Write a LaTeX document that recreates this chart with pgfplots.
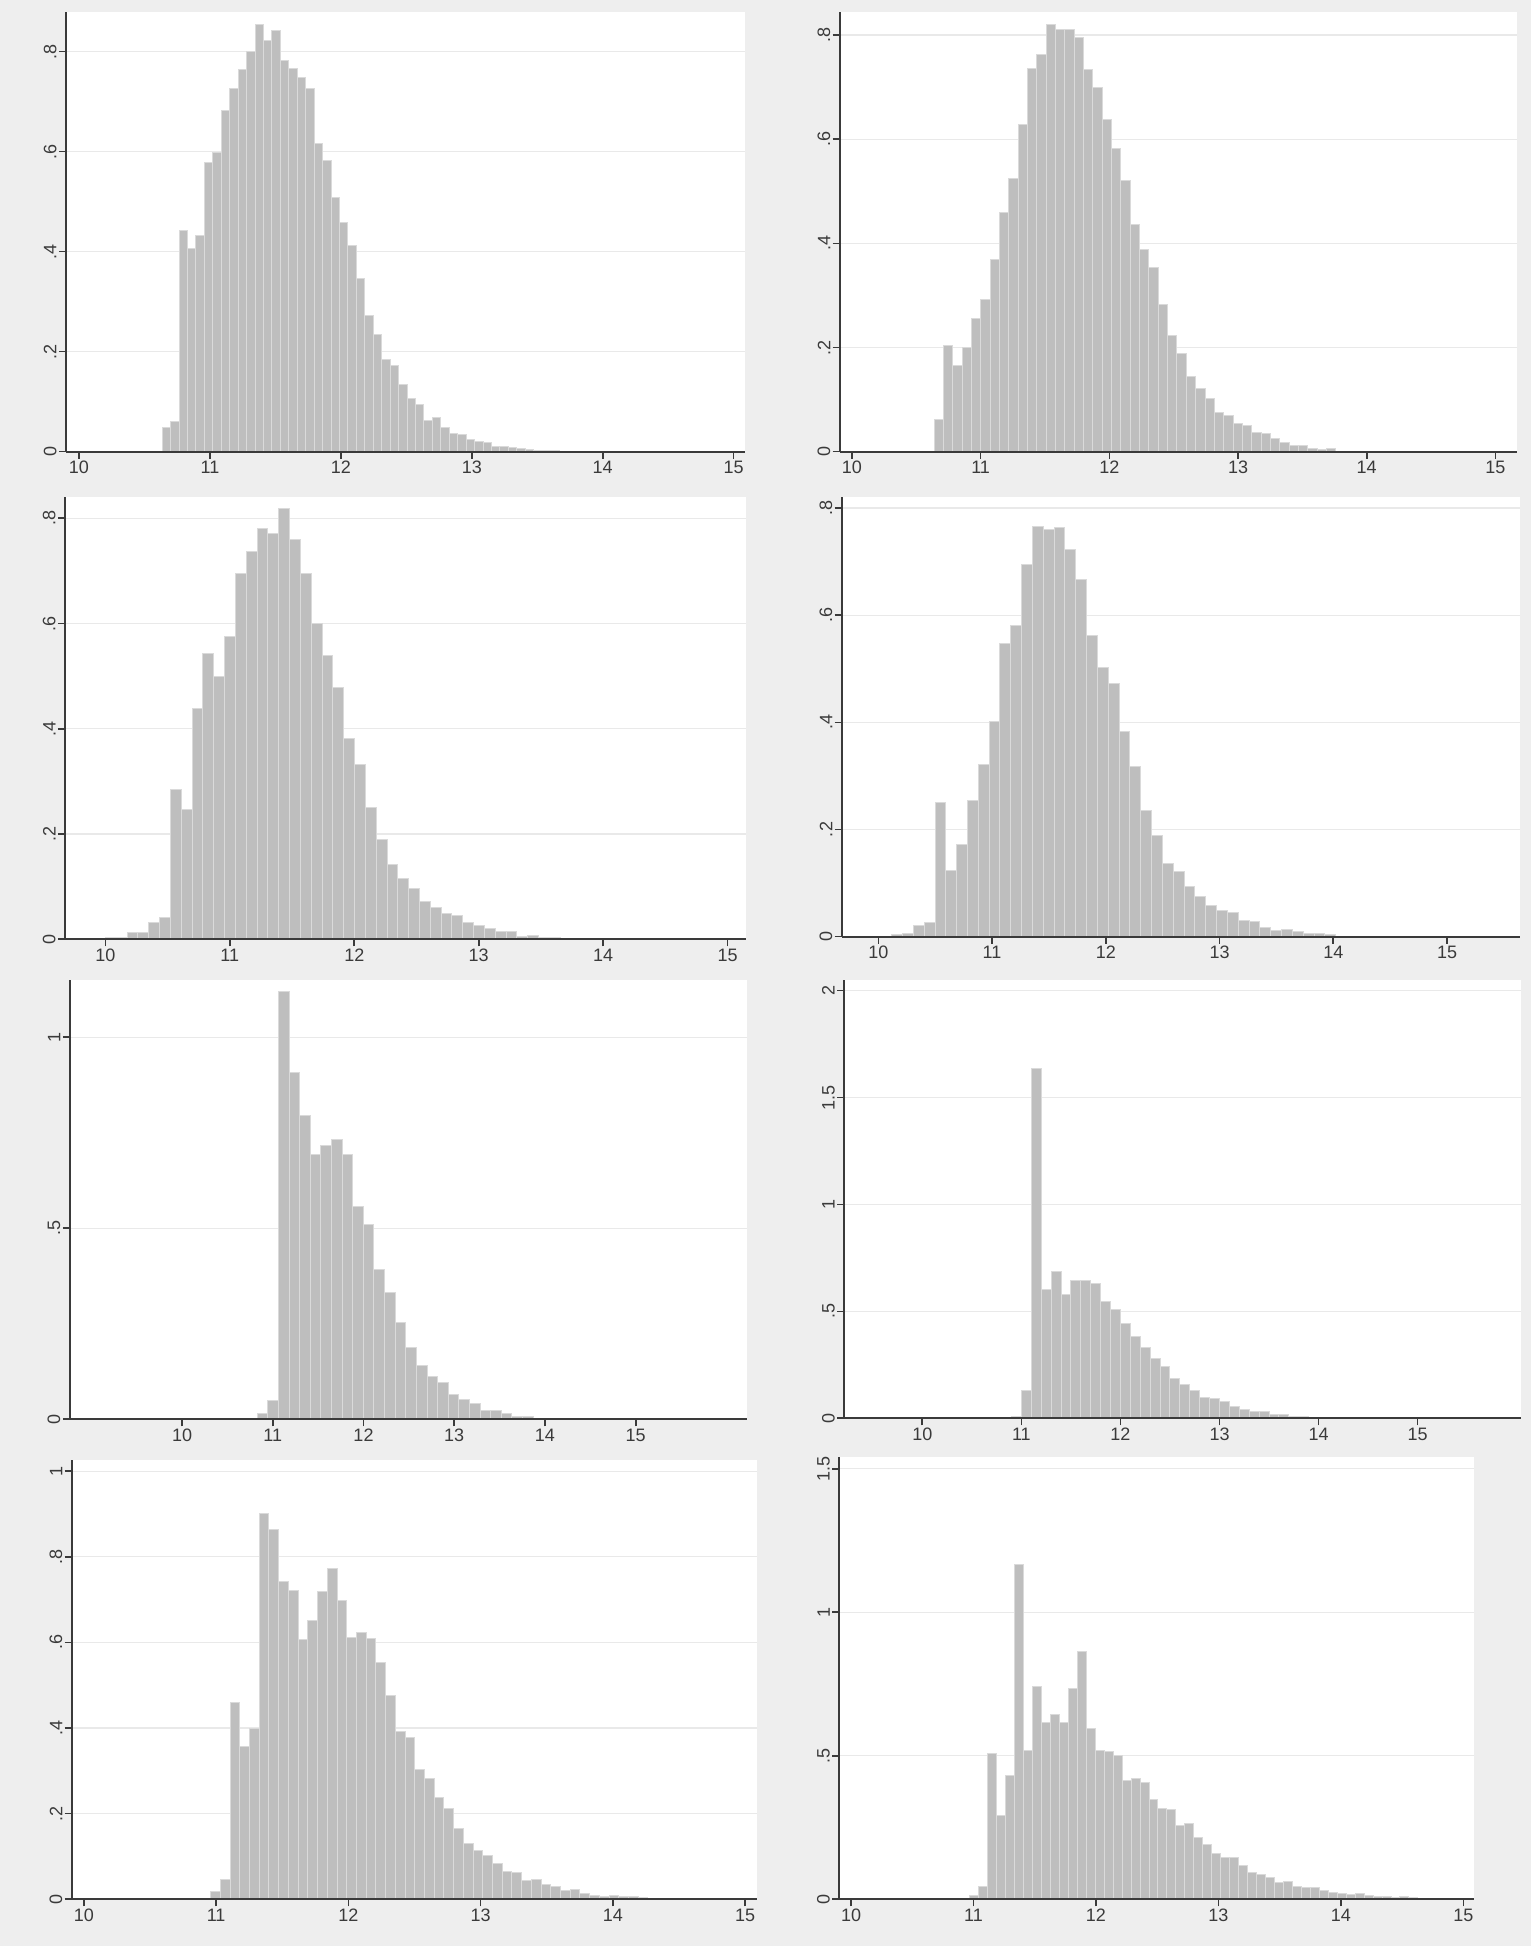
\documentclass[border=0pt]{standalone}
\usepackage{fontspec}
\setmainfont{Liberation Sans}
\usepackage{pgfplots}
\pgfplotsset{compat=1.18}

\definecolor{bgc}{HTML}{EEEEEE}
\definecolor{barf}{HTML}{BEBEBE}
\definecolor{barl}{HTML}{DADADA}
\definecolor{axc}{HTML}{3A3A3A}
\definecolor{gridc}{HTML}{E9E9E9}

\pgfplotsset{
  hist/.style={
    scale only axis, anchor=south west,
    axis background/.style={fill=white},
    axis x line=bottom, axis y line=left,
    axis line style={-, draw=axc, line width=1pt},
    tick align=outside,
    major tick length=3.5pt,
    every tick/.style={draw=axc, line width=0.8pt},
    ymajorgrids, grid style={draw=gridc, line width=0.6pt},
    xtick={10,11,12,13,14,15},
    xticklabels={10,11,12,13,14,15},
    ticklabel style={font=\fontsize{9}{10}\selectfont, text=axc},
    xticklabel style={anchor=north, inner sep=1pt},
    yticklabel style={rotate=90, anchor=south, inner sep=1pt},
    ymin=0,
  },
  bars/.style={ybar interval, fill=barf, draw=barl, line width=0.5pt},
}
% the axis lines are drawn again over the bars, so the baseline stays dark
\newcommand\axislines{%
  \draw[axc, line width=1pt] (rel axis cs:0,0) -- (rel axis cs:1,0);
  \draw[axc, line width=1pt] (rel axis cs:0,0) -- (rel axis cs:0,1);}

\begin{document}
\begin{tikzpicture}
\fill[bgc] (0pt,0pt) rectangle (765.5pt,973pt);

% ---------- row 1, left ----------
\begin{axis}[hist, at={(32.95pt,747.15pt)}, width=339.75pt, height=220pt,
  xmin=9.9, xmax=15.09, ymax=0.88,
  ytick={0,0.2,0.4,0.6,0.8}, yticklabels={0,.2,.4,.6,.8}]
\addplot[bars] coordinates {
(10.635,0.048) (10.6995,0.061) (10.764,0.442) (10.8285,0.407) (10.893,0.433)
(10.9575,0.578) (11.022,0.598) (11.0865,0.682) (11.151,0.727) (11.2155,0.765)
(11.28,0.800) (11.3445,0.855) (11.409,0.822) (11.4735,0.842) (11.538,0.783)
(11.6025,0.767) (11.667,0.749) (11.7315,0.727) (11.796,0.617) (11.8605,0.583)
(11.925,0.508) (11.9895,0.459) (12.054,0.413) (12.1185,0.347) (12.183,0.272)
(12.2475,0.235) (12.312,0.185) (12.3765,0.173) (12.441,0.135) (12.5055,0.106)
(12.57,0.094) (12.6345,0.062) (12.699,0.069) (12.7635,0.049) (12.828,0.037)
(12.8925,0.035) (12.957,0.025) (13.0215,0.021) (13.086,0.019) (13.1505,0.011)
(13.215,0.011) (13.2795,0.009) (13.344,0.007) (13.4085,0.004) (13.473,0.003)
(13.5375,0.002) (13.602,0.002) (13.6665,0.001) (13.731,0.001) (13.7955,0.001)
(13.86,0.001) (13.9245,0.001) (13.989,0.0005) (14.0535,0.0005) (14.118,0.0005)
(14.1825,0.0005) (14.247,0.0005) (14.3115,0.0005) (14.376,0.0008) (14.4405,0.0008)
(14.505,0.0008) (14.5695,0)
};
\axislines
\end{axis}

% ---------- row 1, right ----------
\begin{axis}[hist, at={(419.85pt,747.15pt)}, width=338.8pt, height=220pt,
  xmin=9.905, xmax=15.17, ymax=0.845,
  ytick={0,0.2,0.4,0.6,0.8}, yticklabels={0,.2,.4,.6,.8}]
\addplot[bars] coordinates {
(10.638,0.061) (10.7106,0.204) (10.7832,0.166) (10.8558,0.200) (10.9284,0.255)
(11.001,0.293) (11.0736,0.369) (11.1462,0.460) (11.2188,0.525) (11.2914,0.628)
(11.364,0.736) (11.4366,0.763) (11.5092,0.821) (11.5818,0.810) (11.6544,0.810)
(11.727,0.796) (11.7996,0.734) (11.8722,0.700) (11.9448,0.638) (12.0174,0.583)
(12.09,0.521) (12.1626,0.436) (12.2352,0.388) (12.3078,0.354) (12.3804,0.283)
(12.453,0.223) (12.5256,0.188) (12.5982,0.145) (12.6708,0.121) (12.7434,0.102)
(12.816,0.075) (12.8886,0.070) (12.9612,0.055) (13.0338,0.051) (13.1064,0.036)
(13.179,0.034) (13.2516,0.026) (13.3242,0.017) (13.3968,0.011) (13.4694,0.011)
(13.542,0.006) (13.6146,0.004) (13.6872,0.006) (13.7598,0.001) (13.8324,0.001)
(13.905,0.001) (13.9776,0.001) (14.0502,0.001) (14.1228,0.001) (14.1954,0.001)
(14.268,0.001) (14.3406,0.001) (14.4132,0.0005) (14.4858,0.0005) (14.5584,0.0005)
(14.631,0.0005) (14.7036,0.0005) (14.7762,0.0005) (14.8488,0.0005) (14.9214,0.0005)
(14.994,0.0008) (15.0666,0)
};
\axislines
\end{axis}

% ---------- row 2, left ----------
\begin{axis}[hist, at={(32.45pt,503.35pt)}, width=340.7pt, height=221.3pt,
  xmin=9.675, xmax=15.15, ymax=0.841,
  ytick={0,0.2,0.4,0.6,0.8}, yticklabels={0,.2,.4,.6,.8}]
\addplot[bars] coordinates {
(9.827,0.002) (9.914,0.002) (10.001,0.004) (10.088,0.004) (10.175,0.013)
(10.262,0.013) (10.349,0.031) (10.436,0.042) (10.523,0.285) (10.610,0.247)
(10.697,0.439) (10.784,0.543) (10.871,0.500) (10.958,0.576) (11.045,0.695)
(11.132,0.736) (11.219,0.781) (11.306,0.771) (11.393,0.819) (11.480,0.760)
(11.567,0.695) (11.654,0.600) (11.741,0.540) (11.828,0.479) (11.915,0.381)
(12.002,0.332) (12.089,0.250) (12.176,0.189) (12.263,0.143) (12.350,0.115)
(12.437,0.097) (12.524,0.071) (12.611,0.061) (12.698,0.049) (12.785,0.046)
(12.872,0.031) (12.959,0.027) (13.046,0.020) (13.133,0.014) (13.220,0.014)
(13.307,0.006) (13.394,0.008) (13.481,0.004) (13.568,0.004) (13.655,0.0015)
(13.742,0.0015) (13.829,0.0015) (13.916,0.0015) (14.003,0.0015) (14.090,0.0015)
(14.177,0.0015) (14.264,0.0015) (14.351,0.0015) (14.438,0.0015) (14.525,0)
(14.612,0) (14.699,0) (14.786,0.0015) (14.873,0.002) (14.960,0.001)
(15.047,0)
};
\axislines
\end{axis}

% ---------- row 2, right ----------
\begin{axis}[hist, at={(420.85pt,504.65pt)}, width=339.05pt, height=220pt,
  xmin=9.678, xmax=15.64, ymax=0.821,
  ytick={0,0.2,0.4,0.6,0.8}, yticklabels={0,.2,.4,.6,.8}]
\addplot[bars] coordinates {
(9.832,0.001) (9.9272,0.001) (10.0224,0.001) (10.1176,0.004) (10.2128,0.006)
(10.308,0.020) (10.4032,0.026) (10.4984,0.250) (10.5936,0.123) (10.6888,0.172)
(10.784,0.254) (10.8792,0.322) (10.9744,0.402) (11.0696,0.547) (11.1648,0.580)
(11.26,0.695) (11.3552,0.765) (11.4504,0.760) (11.5456,0.763) (11.6408,0.723)
(11.736,0.667) (11.8312,0.562) (11.9264,0.502) (12.0216,0.472) (12.1168,0.383)
(12.212,0.317) (12.3072,0.236) (12.4024,0.188) (12.4976,0.137) (12.5928,0.121)
(12.688,0.093) (12.7832,0.075) (12.8784,0.058) (12.9736,0.049) (13.0688,0.045)
(13.164,0.030) (13.2592,0.029) (13.3544,0.017) (13.4496,0.012) (13.5448,0.014)
(13.64,0.009) (13.7352,0.006) (13.8304,0.006) (13.9256,0.004) (14.0208,0.001)
(14.116,0.001) (14.2112,0.001) (14.3064,0.001) (14.4016,0.001) (14.4968,0.001)
(14.592,0.001) (14.6872,0.001) (14.7824,0.001) (14.8776,0.001) (14.9728,0.001)
(15.068,0.001) (15.1632,0.001) (15.2584,0.001) (15.3536,0.001) (15.4488,0.001)
(15.544,0)
};
\axislines
\end{axis}

% ---------- row 3, left ----------
\begin{axis}[hist, at={(34.9pt,263.35pt)}, width=338.75pt, height=219.65pt,
  xmin=8.763, xmax=16.23, ymax=1.15,
  ytick={0,0.5,1}, yticklabels={0,.5,1}]
\addplot[bars] coordinates {
(8.956,0.002) (9.073,0) (9.190,0) (9.307,0) (9.424,0)
(9.541,0) (9.658,0) (9.775,0) (9.892,0.0015) (10.009,0.0015)
(10.126,0.0015) (10.243,0.0015) (10.360,0.0015) (10.477,0.0015) (10.594,0.0015)
(10.711,0.0015) (10.828,0.016) (10.945,0.050) (11.062,1.121) (11.179,0.908)
(11.296,0.795) (11.413,0.694) (11.530,0.717) (11.647,0.733) (11.764,0.694)
(11.881,0.558) (11.998,0.509) (12.115,0.392) (12.232,0.331) (12.349,0.254)
(12.466,0.188) (12.583,0.142) (12.700,0.111) (12.817,0.096) (12.934,0.065)
(13.051,0.052) (13.168,0.041) (13.285,0.023) (13.402,0.023) (13.519,0.016)
(13.636,0.007) (13.753,0.007) (13.870,0.003) (13.987,0.001) (14.104,0.001)
(14.221,0.001) (14.338,0.001) (14.455,0.001) (14.572,0.001) (14.689,0.001)
(14.806,0.001) (14.923,0) (15.040,0.001) (15.157,0.001) (15.274,0.001)
(15.391,0) (15.508,0) (15.625,0) (15.742,0) (15.859,0)
(15.976,0.002) (16.093,0)
};
\axislines
\end{axis}

% ---------- row 3, right ----------
\begin{axis}[hist, at={(422.05pt,263.85pt)}, width=338.55pt, height=219.15pt,
  xmin=9.211, xmax=16.045, ymax=2.05,
  ytick={0,0.5,1,1.5,2}, yticklabels={0,.5,1,1.5,2}]
\addplot[bars] coordinates {
(9.4,0.003) (9.5,0) (9.6,0) (9.7,0) (9.8,0)
(9.9,0.0015) (10.0,0.0015) (10.1,0.0015) (10.2,0.0015) (10.3,0.0015)
(10.4,0.0015) (10.5,0.0015) (10.6,0.0015) (10.7,0.0015) (10.8,0.0015)
(10.9,0.009) (11.0,0.129) (11.1,1.638) (11.2,0.601) (11.3,0.688)
(11.4,0.580) (11.5,0.643) (11.6,0.646) (11.7,0.629) (11.8,0.544)
(11.9,0.509) (12.0,0.443) (12.1,0.384) (12.2,0.329) (12.3,0.278)
(12.4,0.242) (12.5,0.186) (12.6,0.159) (12.7,0.129) (12.8,0.098)
(12.9,0.094) (13.0,0.078) (13.1,0.056) (13.2,0.042) (13.3,0.031)
(13.4,0.031) (13.5,0.020) (13.6,0.016) (13.7,0.009) (13.8,0.009)
(13.9,0.006) (14.0,0.003) (14.1,0.001) (14.2,0.001) (14.3,0.001)
(14.4,0.001) (14.5,0.001) (14.6,0.001) (14.7,0.001) (14.8,0.001)
(14.9,0.001) (15.0,0.001) (15.1,0.001) (15.2,0.001) (15.3,0.001)
(15.4,0.001) (15.5,0) (15.6,0.002) (15.7,0) (15.8,0.002)
(15.9,0)
};
\axislines
\end{axis}

% ---------- row 4, left ----------
\begin{axis}[hist, at={(35.85pt,23.35pt)}, width=342.65pt, height=219.65pt,
  xmin=9.908, xmax=15.09, ymax=1.026,
  ytick={0,0.2,0.4,0.6,0.8,1}, yticklabels={0,.2,.4,.6,.8,1}]
\addplot[bars] coordinates {
(10.959,0.018) (11.0325,0.047) (11.1059,0.459) (11.1794,0.358) (11.2529,0.398)
(11.3264,0.900) (11.3998,0.863) (11.4733,0.742) (11.5468,0.721) (11.6202,0.607)
(11.6937,0.651) (11.7672,0.718) (11.8406,0.773) (11.9141,0.698) (11.9876,0.612)
(12.0611,0.622) (12.1345,0.610) (12.2080,0.553) (12.2815,0.475) (12.3549,0.393)
(12.4284,0.377) (12.5019,0.303) (12.5753,0.282) (12.6488,0.237) (12.7223,0.212)
(12.7958,0.165) (12.8692,0.130) (12.9427,0.113) (13.0162,0.103) (13.0896,0.084)
(13.1631,0.065) (13.2366,0.062) (13.3100,0.044) (13.3835,0.047) (13.4570,0.034)
(13.5305,0.031) (13.6039,0.021) (13.6774,0.024) (13.7509,0.014) (13.8243,0.009)
(13.8978,0.006) (13.9713,0.009) (14.0447,0.006) (14.1182,0.006) (14.1917,0.004)
(14.2652,0.002) (14.3386,0)
};
\axislines
\end{axis}

% ---------- row 4, right ----------
\begin{axis}[hist, at={(419.65pt,23.35pt)}, width=317.5pt, height=221pt,
  xmin=9.904, xmax=15.09, ymax=1.54,
  ytick={0,0.5,1,1.5}, yticklabels={0,.5,1,1.5}]
\addplot[bars] coordinates {
(10.896,0.003) (10.9692,0.012) (11.0424,0.046) (11.1156,0.509) (11.1888,0.292)
(11.262,0.432) (11.3352,1.168) (11.4084,0.518) (11.4816,0.741) (11.5548,0.615)
(11.628,0.644) (11.7012,0.617) (11.7744,0.736) (11.8476,0.863) (11.9208,0.596)
(11.994,0.517) (12.0672,0.515) (12.1404,0.500) (12.2136,0.414) (12.2868,0.421)
(12.36,0.407) (12.4332,0.346) (12.5064,0.316) (12.5796,0.314) (12.6528,0.257)
(12.726,0.264) (12.7992,0.215) (12.8724,0.192) (12.9456,0.159) (13.0188,0.145)
(13.092,0.145) (13.1652,0.119) (13.2384,0.094) (13.3116,0.085) (13.3848,0.076)
(13.458,0.060) (13.5312,0.063) (13.6044,0.046) (13.6776,0.042) (13.7508,0.042)
(13.824,0.029) (13.8972,0.023) (13.9704,0.021) (14.0436,0.016) (14.1168,0.019)
(14.19,0.012) (14.2632,0.010) (14.3364,0.009) (14.4096,0.007) (14.4828,0.009)
(14.556,0.005) (14.6292,0.003) (14.7024,0.002) (14.7756,0.001) (14.8488,0)
};
\axislines
\end{axis}
\end{tikzpicture}
\end{document}
